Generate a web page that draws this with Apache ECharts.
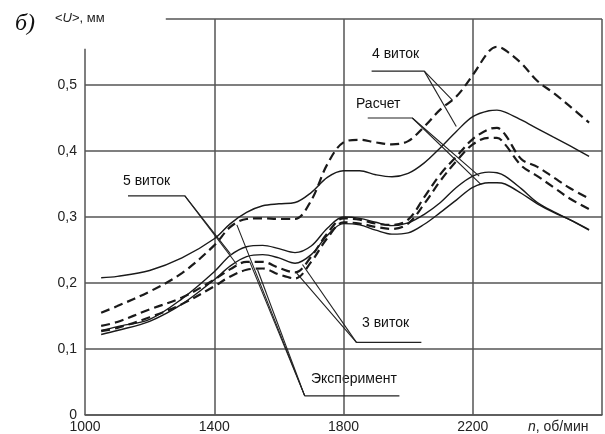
<!DOCTYPE html>
<html>
<head>
<meta charset="utf-8">
<script src="https://cdn.jsdelivr.net/npm/echarts@6/dist/echarts.min.js"></script>
<style>html,body{margin:0;padding:0;background:#fff}#c{width:605px;height:434px}</style>
</head>
<body>
<div id="c"></div>
<script>
// ---- data (n, об/мин ; <U>, мм) ----
const nGrid = [1050,1100,1200,1300,1400,1450,1500,1550,1600,1650,1700,1750,1800,1850,1900,1950,2000,2050,2100,2150,2200,2250,2275,2300,2350,2400,2450,2500,2560];
const calc4 = [0.208,0.210,0.219,0.238,0.267,0.290,0.307,0.317,0.320,0.322,0.337,0.360,0.370,0.370,0.364,0.361,0.366,0.382,0.405,0.430,0.452,0.461,0.462,0.459,0.447,0.434,0.421,0.408,0.392];
const exp4  = [0.155,0.165,0.187,0.215,0.257,0.285,0.297,0.298,0.297,0.297,0.325,0.380,0.413,0.417,0.413,0.410,0.415,0.437,0.463,0.483,0.515,0.551,0.558,0.553,0.533,0.506,0.488,0.468,0.443];
const calc5 = [0.128,0.134,0.145,0.176,0.217,0.242,0.255,0.257,0.252,0.246,0.256,0.283,0.300,0.298,0.292,0.287,0.291,0.304,0.322,0.345,0.362,0.368,0.367,0.362,0.343,0.322,0.308,0.296,0.280];
const calc3 = [0.122,0.128,0.142,0.168,0.205,0.226,0.240,0.243,0.238,0.230,0.243,0.272,0.290,0.288,0.280,0.274,0.276,0.289,0.307,0.326,0.345,0.352,0.352,0.350,0.336,0.320,0.307,0.296,0.281];
const exp5  = [0.135,0.141,0.160,0.178,0.205,0.221,0.232,0.232,0.223,0.216,0.240,0.275,0.298,0.296,0.290,0.288,0.296,0.330,0.365,0.392,0.418,0.433,0.435,0.425,0.388,0.376,0.360,0.344,0.328];
const exp3  = [0.127,0.132,0.148,0.168,0.195,0.210,0.220,0.222,0.213,0.207,0.232,0.268,0.292,0.290,0.285,0.282,0.290,0.320,0.355,0.385,0.410,0.420,0.420,0.410,0.378,0.362,0.345,0.328,0.312];

const xTicks = [1000,1400,1800,2200,2600];
const yTicks = [0,0.1,0.2,0.3,0.4,0.5,0.6];

// leader lines of the annotations (data coordinates)
const lead4 = [[[1887,0.521],[2050,0.521],[2137,0.477]],[[2050,0.521],[2149,0.437]]];
const leadCalc = [[[1875,0.45],[2013,0.45],[2220,0.362]],[[2013,0.45],[2226,0.349]]];
const lead5 = [[[1133,0.332],[1309,0.332],[1450,0.244]],[[1309,0.332],[1470,0.228]]];
const lead3 = [[[2041,0.110],[1840,0.110],[1655,0.215]],[[1840,0.110],[1673,0.228]]];
const leadExp = [[[1973,0.029],[1680,0.029],[1470,0.288]],[[1680,0.029],[1510,0.232]],[[1680,0.029],[1534,0.220]]];

const pair = arr => nGrid.map((n,i)=>[n,arr[i]]);
const ink = '#1a1a1a';
const gridC = '#555';

function curve(name, arr, dashed){
  return {
    type:'line', name, data: pair(arr), smooth:0.35, showSymbol:false, silent:true,
    lineStyle: dashed ? {color:ink, width:2.2, type:[9,5]} : {color:ink, width:1.4},
    z:3
  };
}
const leaders = [...lead4, ...leadCalc, ...lead5, ...lead3, ...leadExp].map(p=>({
  type:'line', data:p, showSymbol:false, silent:true, smooth:false,
  lineStyle:{color:'#222', width:1.1}, z:4
}));

const chart = echarts.init(document.getElementById('c'));
chart.setOption({
  animation:false,
  backgroundColor:'#fff',
  grid:{left:85,right:2,top:19,bottom:19},
  xAxis:{
    type:'value', min:1000, max:2600, interval:400,
    axisLine:{show:true,lineStyle:{color:gridC,width:1.5}},
    axisTick:{show:false},
    axisLabel:{color:'#222',fontFamily:'Liberation Sans, Arial',fontSize:14,margin:5,
      formatter:v=> v===2600 ? '' : String(v)},
    splitLine:{show:true,lineStyle:{color:['rgba(0,0,0,0)',gridC,gridC,gridC,gridC],width:1.5}}
  },
  yAxis:{
    type:'value', min:0, max:0.6, interval:0.1,
    axisLine:{show:false}, axisTick:{show:false},
    axisLabel:{color:'#222',fontFamily:'Liberation Sans, Arial',fontSize:14,margin:8,
      formatter:v=> v>0.55 ? '' : (v===0 ? '0' : v.toFixed(1).replace('.',','))},
    splitLine:{show:true,lineStyle:{color:[gridC,gridC,gridC,gridC,gridC,gridC,'rgba(0,0,0,0)'],width:1.5}}
  },
  series:[
    curve('Расчет 4 виток', calc4, false),
    curve('Эксперимент 4 виток', exp4, true),
    curve('Расчет 5 виток', calc5, false),
    curve('Расчет 3 виток', calc3, false),
    curve('Эксперимент 5 виток', exp5, true),
    curve('Эксперимент 3 виток', exp3, true),
    ...leaders,
    {type:'line', data:[], silent:true,
      markLine:{silent:true, symbol:'none', label:{show:false},
        lineStyle:{color:gridC,width:1.5,type:'solid'},
        data:[
          [{coord:[1000,0]},{coord:[1000,0.555]}],
          [{coord:[1250,0.6]},{coord:[2600,0.6]}]
        ]}}
  ],
  graphic:[
    {type:'text',left:15,top:12,style:{text:'б)',font:'italic 24px "Liberation Serif", serif',fill:'#111'}},
    {type:'text',left:55,top:12,style:{text:'<{i|U}>, мм',font:'13px "Liberation Sans", Arial',fill:'#222',
      rich:{i:{font:'italic 13px "Liberation Sans", Arial',fill:'#222'}}}},
    {type:'text',left:528,top:420,style:{text:'{i|n}, об/мин',font:'14px "Liberation Sans", Arial',fill:'#222',
      rich:{i:{font:'italic 14px "Liberation Sans", Arial',fill:'#222'}}}},
    {type:'text',left:372,top:47,style:{text:'4 виток',font:'14px "Liberation Sans", Arial',fill:'#111'}},
    {type:'text',left:356,top:97,style:{text:'Расчет',font:'14px "Liberation Sans", Arial',fill:'#111'}},
    {type:'text',left:123,top:174,style:{text:'5 виток',font:'14px "Liberation Sans", Arial',fill:'#111'}},
    {type:'text',left:362,top:316,style:{text:'3 виток',font:'14px "Liberation Sans", Arial',fill:'#111'}},
    {type:'text',left:311,top:372,style:{text:'Эксперимент',font:'14px "Liberation Sans", Arial',fill:'#111'}}
  ]
});
</script>
</body>
</html>
